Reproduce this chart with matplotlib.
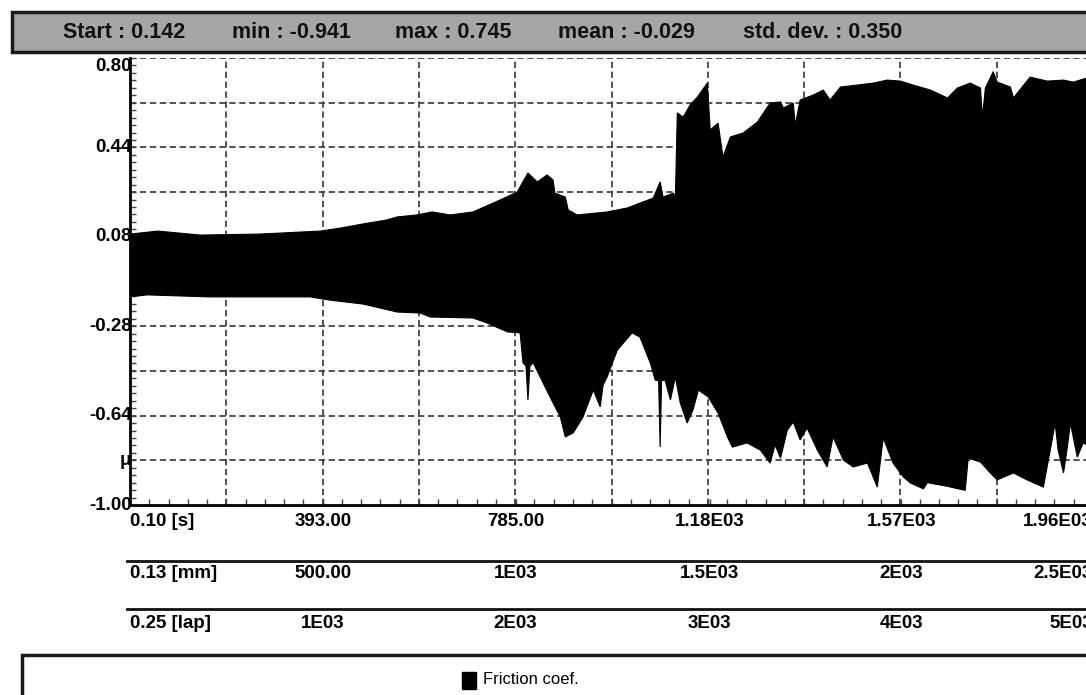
import numpy as np
import matplotlib
matplotlib.use('Agg')
import matplotlib.pyplot as plt
from matplotlib import transforms
from matplotlib.patches import Rectangle

plt.rcParams['font.family'] = ['Liberation Sans', 'DejaVu Sans']

# header statistics
stats = ['Start : 0.142', 'min : -0.941', 'max : 0.745', 'mean : -0.029', 'std. dev. : 0.350']

# envelope of the friction signal (time in s, friction coef.)
up_t = [0.1, 57, 143, 265, 346, 387, 428, 475, 523, 544, 584, 615, 652, 698, 753,
        788, 810, 829, 849, 861, 865, 886, 892, 910, 971, 1012, 1065, 1079, 1085, 1106,
        1110, 1114, 1126, 1140, 1155, 1175, 1181, 1197, 1207, 1222, 1248, 1277, 1303, 1324, 1330,
        1350, 1354, 1364, 1391, 1411, 1425, 1446, 1480, 1513, 1541, 1568, 1594, 1629, 1664, 1684,
        1710, 1731, 1735, 1741, 1757, 1765, 1792, 1798, 1832, 1867, 1900, 1920, 1947, 1960]
up_v = [0.091, 0.103, 0.087, 0.091, 0.099, 0.103, 0.115, 0.132, 0.148, 0.160, 0.168, 0.180, 0.168, 0.180, 0.228,
        0.260, 0.337, 0.301, 0.329, 0.309, 0.256, 0.240, 0.188, 0.168, 0.180, 0.196, 0.236, 0.301, 0.240, 0.256,
        0.236, 0.579, 0.562, 0.611, 0.643, 0.699, 0.510, 0.538, 0.401, 0.482, 0.498, 0.542, 0.619, 0.623, 0.599,
        0.619, 0.530, 0.631, 0.651, 0.671, 0.631, 0.683, 0.691, 0.699, 0.711, 0.707, 0.691, 0.671, 0.639, 0.679,
        0.699, 0.679, 0.562, 0.679, 0.745, 0.703, 0.683, 0.639, 0.723, 0.707, 0.711, 0.703, 0.719, 0.715]

lo_t = [0.1, 35, 163, 367, 407, 475, 544, 591, 611, 698, 727, 768, 794, 800, 806, 810, 814,
        821, 835, 855, 876, 886, 902, 922, 943, 957, 963, 971, 992, 1022, 1038, 1059,
        1069, 1076, 1079, 1082, 1089, 1100, 1110, 1120, 1134, 1146, 1157, 1177, 1197, 1216, 1226, 1256, 1283,
        1303, 1313, 1324, 1338, 1350, 1364, 1378, 1399, 1419, 1431, 1452, 1472, 1501, 1521, 1533,
        1553, 1574, 1588, 1615, 1623, 1664, 1700, 1706, 1731, 1751, 1765, 1798, 1826, 1859, 1873,
        1883, 1889, 1900, 1907, 1914, 1928, 1940, 1960]
lo_v = [-0.162, -0.154, -0.162, -0.162, -0.175, -0.191, -0.223, -0.227, -0.243, -0.247, -0.267, -0.303, -0.307, -0.428, -0.440, -0.577, -0.440,
        -0.428, -0.485, -0.565, -0.646, -0.726, -0.710, -0.646, -0.537, -0.605, -0.517, -0.485, -0.376, -0.307, -0.324, -0.428,
        -0.497, -0.500, -0.767, -0.500, -0.497, -0.577, -0.485, -0.589, -0.670, -0.617, -0.537, -0.565, -0.630, -0.726, -0.767, -0.750, -0.779,
        -0.831, -0.758, -0.811, -0.698, -0.666, -0.738, -0.690, -0.779, -0.847, -0.726, -0.819, -0.847, -0.831, -0.928, -0.730,
        -0.831, -0.887, -0.911, -0.935, -0.910, -0.925, -0.941, -0.811, -0.827, -0.871, -0.899, -0.871, -0.899, -0.928, -0.779,
        -0.670, -0.779, -0.871, -0.779, -0.670, -0.807, -0.750, -0.770]

# axis ticks and the three scales (time / distance / laps)
x_ticks = [0.1, 393.0, 785.0, 1180.0, 1570.0, 1960.0]
time_labels = ['0.10 [s]', '393.00', '785.00', '1.18E03', '1.57E03', '1.96E03']
dist_labels = ['0.13 [mm]', '500.00', '1E03', '1.5E03', '2E03', '2.5E03']
lap_labels = ['0.25 [lap]', '1E03', '2E03', '3E03', '4E03', '5E03']
y_ticks = [0.80, 0.44, 0.08, -0.28, -0.64, -1.00]
y_labels = ['0.80', '0.44', '0.08', '-0.28', '-0.64', '-1.00']

W, H = 1086, 695
fig = plt.figure(figsize=(W / 100, H / 100), dpi=100)

def fx(px):
    return px / W

def fy(py):
    return 1 - py / H

# plot area in pixels: left 130, right 1093, top 58, bottom 505
ax = fig.add_axes([fx(130), fy(505), fx(1093) - fx(130), (505 - 58) / H])
ax.set_xlim(0.1, 1960.0)
ax.set_ylim(-1.0, 0.80)

# grid
for g in np.linspace(x_ticks[0], x_ticks[-1], 11)[1:-1]:
    ax.axvline(g, color='#444444', lw=1.3, ls=(0, (3.5, 2)), zorder=1)
for g in np.linspace(-1.0, 0.80, 11)[1:]:
    ax.axhline(g, color='#444444', lw=1.3, ls=(0, (3.5, 2)), zorder=1)

# friction envelope
poly_t = np.concatenate([up_t, lo_t[::-1]])
poly_v = np.concatenate([up_v, lo_v[::-1]])
ax.fill(poly_t, poly_v, color='black', lw=0.8, zorder=2)

for s in ['top', 'right']:
    ax.spines[s].set_visible(False)
for s in ['left', 'bottom']:
    ax.spines[s].set_linewidth(2)
ax.set_xticks(x_ticks)
ax.set_xticks(np.linspace(x_ticks[0], x_ticks[-1], 51), minor=True)
ax.set_xticklabels([])
ax.set_yticks(y_ticks)
ax.set_yticks(np.arange(-1.0, 0.81, 0.03), minor=True)
ax.set_yticklabels([])
ax.tick_params(which='both', direction='in', length=4, width=1, color='#444444')

# y labels
ylab = transforms.blended_transform_factory(fig.transFigure, ax.transData)
for v, lab in zip(y_ticks, y_labels):
    va = 'center'
    if v == y_ticks[0]:
        va = 'top'
    fig.text(fx(132), v, lab, transform=ylab, ha='right', va=va, fontsize=13.5,
             fontweight='bold', zorder=-1)
fig.text(fx(131), -0.82, 'μ', transform=ylab, ha='right', va='center', fontsize=13.5,
         fontweight='bold', zorder=-1)

# x label rows
xlab = transforms.blended_transform_factory(ax.transData, fig.transFigure)
rows = [(time_labels, 522), (dist_labels, 573), (lap_labels, 624)]
for labels, py in rows:
    for i, (t, lab) in enumerate(zip(x_ticks, labels)):
        ha = 'center'
        if i == 0:
            ha = 'left'
        elif i == len(labels) - 1:
            ha = 'right'
        fig.text(t, fy(py), lab, transform=xlab, ha=ha, va='center', fontsize=13.5,
                 fontweight='bold')
for py in [561, 609]:
    fig.add_artist(plt.Line2D([fx(127), 1.0], [fy(py), fy(py)], color='#111111', lw=2))

# header with statistics
fig.add_artist(Rectangle((fx(12), fy(52)), 1.0, (52 - 12) / H, facecolor='#a6a6a6',
                         edgecolor='#1a1a1a', lw=2.5))
for px, s in zip([63, 232, 395, 558, 743], stats):
    fig.text(fx(px), fy(32), s, ha='left', va='center', fontsize=15.5, fontweight='bold',
             color='#111111')

# legend box
fig.add_artist(Rectangle((fx(22), fy(H + 5)), 1.0, (H + 5 - 655) / H, facecolor='white',
                         edgecolor='#1a1a1a', lw=2.5))
fig.add_artist(Rectangle((fx(462), fy(689)), 14 / W, 17 / H, facecolor='black', edgecolor='black'))
fig.text(fx(483), fy(680), 'Friction coef.', ha='left', va='center', fontsize=12)

fig.savefig('out.png', dpi=100)
